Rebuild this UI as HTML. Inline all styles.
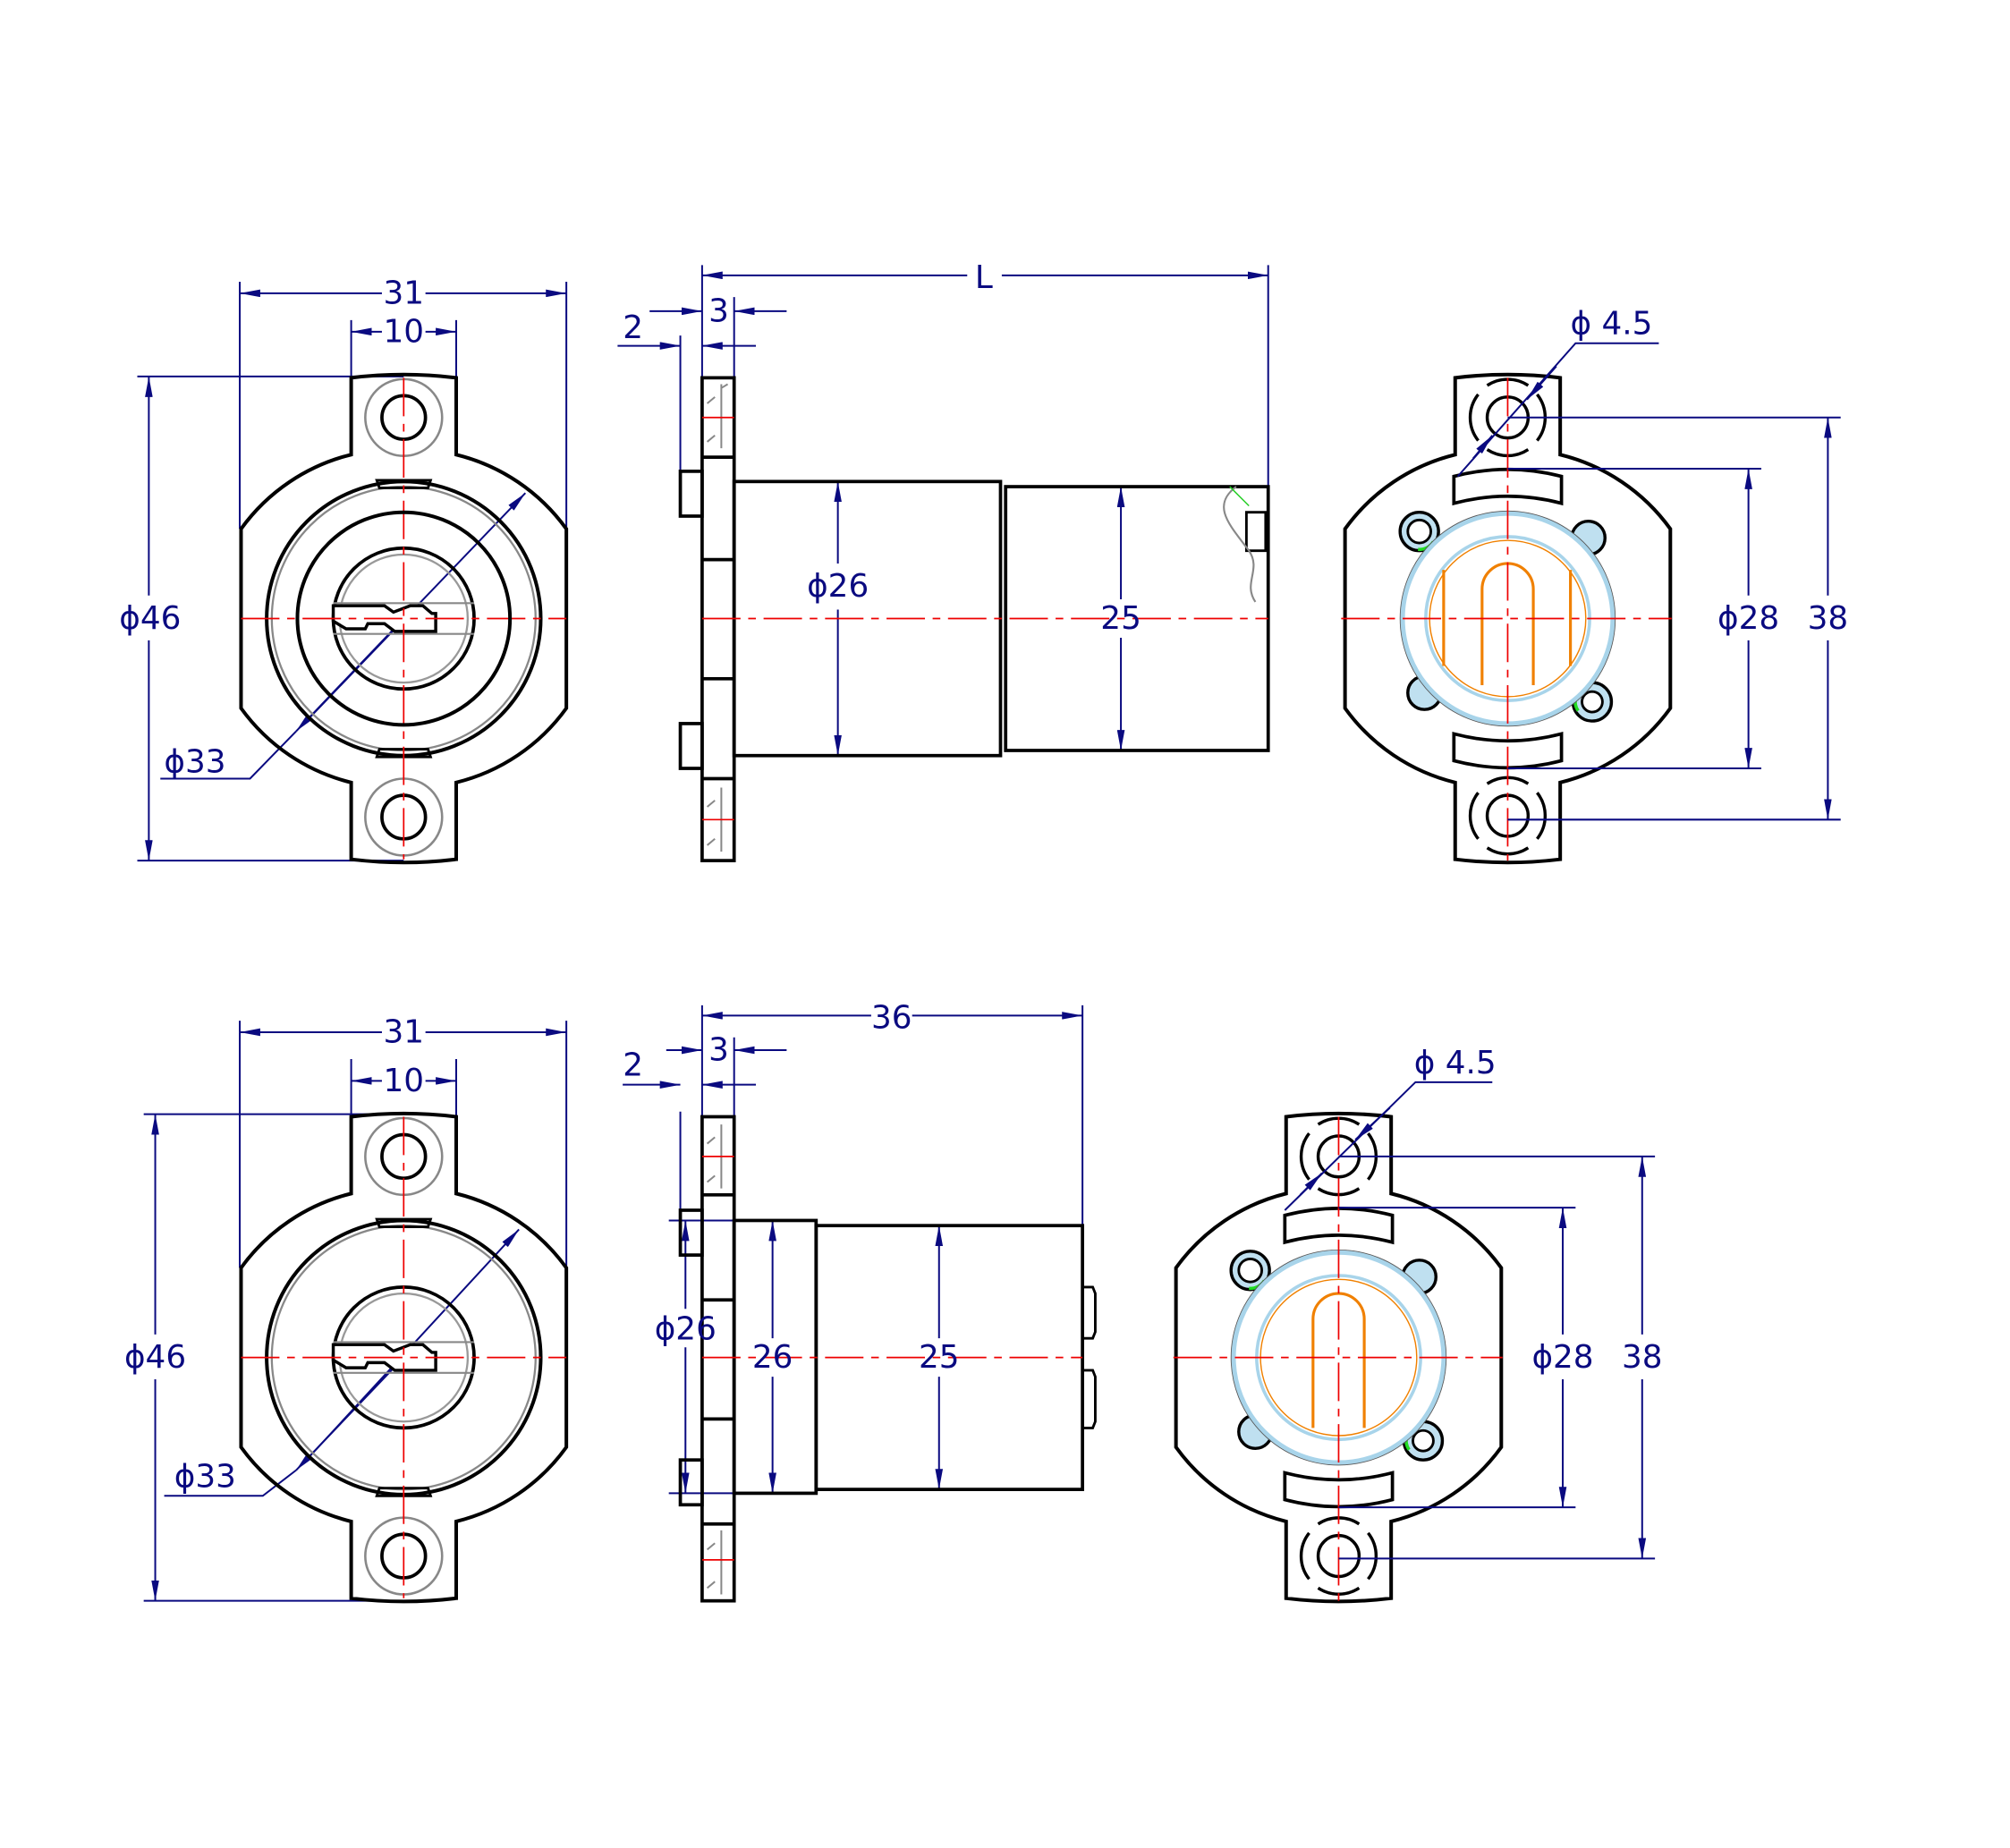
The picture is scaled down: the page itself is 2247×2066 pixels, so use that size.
<!DOCTYPE html>
<html><head><meta charset="utf-8"><style>html,body{margin:0;padding:0;background:#fff}svg{display:block}text{font-family:"DejaVu Sans","Liberation Sans",sans-serif;fill:#0a0a80;font-size:25px;text-anchor:middle;dominant-baseline:central}</style></head>
<body>
<svg width="2247" height="2066" viewBox="0 0 1569 1443" xmlns="http://www.w3.org/2000/svg">
<defs>
<marker id="a" viewBox="0 0 16 6" refX="16" refY="3" markerWidth="16" markerHeight="6" markerUnits="userSpaceOnUse" orient="auto-start-reverse"><path d="M0,0 L16,3 L0,6 Z" fill="#0a0a80"/></marker>
<path id="body" d="M-41,-188 Q0,-193 41,-188 L41,-128 A150 150 0 0 1 127,-70 L127,70 A150 150 0 0 1 41,128 L41,188 Q0,193 -41,188 L-41,128 A150 150 0 0 1 -127,70 L-127,-70 A150 150 0 0 1 -41,-128 Z" fill="none" stroke="#000" stroke-width="2.8"/>
<g id="front">
 <use href="#body"/>
 <circle r="30" cy="-157" fill="none" stroke="#888" stroke-width="1.8"/>
 <circle r="17" cy="-157" fill="none" stroke="#000" stroke-width="2.6"/>
 <circle r="30" cy="155" fill="none" stroke="#888" stroke-width="1.8"/>
 <circle r="17" cy="155" fill="none" stroke="#000" stroke-width="2.6"/>
 <circle r="107" fill="none" stroke="#000" stroke-width="2.8"/>
 <circle r="103" fill="none" stroke="#888" stroke-width="1.6"/>
 <circle r="55" fill="none" stroke="#000" stroke-width="2.6"/>
 <circle r="50" fill="none" stroke="#999" stroke-width="1.6"/>
 <path d="M-19,-102 L19,-102 L21,-108 L-21,-108 Z M-19,102 L19,102 L21,108 L-21,108 Z" fill="none" stroke="#000" stroke-width="2"/>
 <path d="M-55,-12 H55 M-55,12 H55" stroke="#888" stroke-width="1.5"/>
 <path d="M-55,-10 L-15,-10 L-8,-5 L5,-10 L15,-10 L22,-4 L25,-4 L25,10 L-7,10 L-15,4 L-28,4 L-30,8 L-45,8 L-55,2 Z" fill="#fff" stroke="#000" stroke-width="2.4"/>
 <path d="M0,-188 V188 M-127,0 H127" stroke="#e00" stroke-width="1.2" stroke-dasharray="30,6,6,6"/>
</g>
<g id="rear">
 <use href="#body"/>
 <path d="M-42,-111 Q0,-122 42,-111 L42,-90 Q0,-101 -42,-90 Z M-42,111 Q0,122 42,111 L42,90 Q0,101 -42,90 Z" fill="none" stroke="#000" stroke-width="2.6"/>
</g>
<g id="hole">
 <circle r="16" fill="none" stroke="#000" stroke-width="2.4"/>
 <path d="M-23,-18 A29 29 0 0 0 -23,18 M23,-18 A29 29 0 0 1 23,18 M-16,-25 A29 29 0 0 1 16,-25 M-16,25 A29 29 0 0 0 16,25" fill="none" stroke="#000" stroke-width="2.4"/>
</g>
<g id="ring">
 <circle cx="-69" cy="-68" r="15" fill="#bfe0f0" stroke="#000" stroke-width="2.4"/>
 <circle cx="63" cy="-63" r="13" fill="#bfe0f0" stroke="#000" stroke-width="2.4"/>
 <circle cx="66" cy="65" r="15" fill="#bfe0f0" stroke="#000" stroke-width="2.4"/>
 <circle cx="-65" cy="58" r="13" fill="#bfe0f0" stroke="#000" stroke-width="2.4"/>
 <circle cx="-69" cy="-68" r="9" fill="#fff" stroke="#000" stroke-width="2"/>
 <circle cx="66" cy="65" r="8" fill="#fff" stroke="#000" stroke-width="2"/>
 <path d="M-58,-60 A13 13 0 0 1 -70,-54" fill="none" stroke="#2d2" stroke-width="2.5"/>
 <path d="M55,72 A13 13 0 0 1 60,53" fill="none" stroke="#2d2" stroke-width="2.5"/>
 <circle r="82" fill="#fff" stroke="#a8d4ea" stroke-width="3.5"/>
 <circle r="84" fill="none" stroke="#555" stroke-width="0.6"/>
 <circle r="64" fill="none" stroke="#a8d4ea" stroke-width="2.5"/>
 <circle r="61" fill="none" stroke="#f08000" stroke-width="1"/>
</g>
</defs>
<g fill="none" stroke="#0a0a80" stroke-width="1.4">
<path d="M187,220 V413 M442,220 V413 M274,250 V295 M356,250 V295 M107,294 H315 M107,672 H315"/>
<line x1="298" y1="229" x2="187" y2="229" marker-end="url(#a)"/><line x1="332" y1="229" x2="442" y2="229" marker-end="url(#a)"/>
<line x1="298" y1="259" x2="274" y2="259" marker-end="url(#a)"/><line x1="332" y1="259" x2="356" y2="259" marker-end="url(#a)"/>
<line x1="116" y1="465" x2="116" y2="294" marker-end="url(#a)"/><line x1="116" y1="500" x2="116" y2="672" marker-end="url(#a)"/>
<line x1="240" y1="562" x2="410" y2="385" marker-end="url(#a)"/><line x1="315" y1="483" x2="231" y2="571" marker-end="url(#a)"/>
<path d="M231,571 L195,608 H125"/>
<path d="M187,797 V990 M442,797 V990 M274,827 V872 M356,827 V872 M112,870 H315 M112,1250 H315"/>
<line x1="298" y1="806" x2="187" y2="806" marker-end="url(#a)"/><line x1="332" y1="806" x2="442" y2="806" marker-end="url(#a)"/>
<line x1="298" y1="844" x2="274" y2="844" marker-end="url(#a)"/><line x1="332" y1="844" x2="356" y2="844" marker-end="url(#a)"/>
<line x1="121" y1="1042" x2="121" y2="870" marker-end="url(#a)"/><line x1="121" y1="1077" x2="121" y2="1250" marker-end="url(#a)"/>
<line x1="240" y1="1139" x2="405" y2="960" marker-end="url(#a)"/><line x1="315" y1="1060" x2="231" y2="1148" marker-end="url(#a)"/>
<path d="M231,1148 L205,1168 H128"/>
<path d="M548,207 V295 M990,207 V380 M531,262 V368 M573,232 V376"/>
<line x1="755" y1="215" x2="548" y2="215" marker-end="url(#a)"/><line x1="782" y1="215" x2="990" y2="215" marker-end="url(#a)"/>
<line x1="507" y1="243" x2="548" y2="243" marker-end="url(#a)"/><line x1="614" y1="243" x2="573" y2="243" marker-end="url(#a)"/>
<line x1="482" y1="270" x2="531" y2="270" marker-end="url(#a)"/><line x1="590" y1="270" x2="548" y2="270" marker-end="url(#a)"/>
<line x1="654" y1="440" x2="654" y2="376" marker-end="url(#a)"/><line x1="654" y1="476" x2="654" y2="590" marker-end="url(#a)"/>
<line x1="875" y1="468" x2="875" y2="380" marker-end="url(#a)"/><line x1="875" y1="498" x2="875" y2="586" marker-end="url(#a)"/>
<path d="M548,785 V872 M845,785 V957 M531,868 V945 M573,810 V953 M522,953 H573 M522,1166 H573"/>
<line x1="680" y1="793" x2="548" y2="793" marker-end="url(#a)"/><line x1="712" y1="793" x2="845" y2="793" marker-end="url(#a)"/>
<line x1="520" y1="820" x2="548" y2="820" marker-end="url(#a)"/><line x1="614" y1="820" x2="573" y2="820" marker-end="url(#a)"/>
<line x1="486" y1="847" x2="531" y2="847" marker-end="url(#a)"/><line x1="590" y1="847" x2="548" y2="847" marker-end="url(#a)"/>
<line x1="535" y1="1022" x2="535" y2="953" marker-end="url(#a)"/><line x1="535" y1="1052" x2="535" y2="1166" marker-end="url(#a)"/>
<line x1="603" y1="1045" x2="603" y2="953" marker-end="url(#a)"/><line x1="603" y1="1075" x2="603" y2="1166" marker-end="url(#a)"/>
<line x1="733" y1="1045" x2="733" y2="957" marker-end="url(#a)"/><line x1="733" y1="1075" x2="733" y2="1163" marker-end="url(#a)"/>
</g>

<use href="#front" x="315" y="483"/>
<use href="#front" x="315" y="1060"/>
<circle cx="315" cy="483" r="83" fill="none" stroke="#000" stroke-width="2.8"/>

<g fill="none" stroke="#000" stroke-width="2.6">
 <rect x="548" y="295" width="25" height="377"/>
 <path d="M548,357 H573 M548,437 H573 M548,530 H573 M548,608 H573"/>
 <rect x="531" y="368" width="17" height="35"/><rect x="531" y="565" width="17" height="35"/>
 <rect x="573" y="376" width="208" height="214"/>
 <rect x="785" y="380" width="205" height="206"/>
 <path d="M973,400 H988 V430 H973 Z" stroke-width="2"/>
 <path d="M965,380 C945,395 960,410 975,430 C985,445 970,455 980,470" stroke="#888" stroke-width="1.5"/>
 <path d="M960,380 L975,395" stroke="#2c2" stroke-width="1"/>
 <rect x="548" y="872" width="25" height="378"/>
 <path d="M548,933 H573 M548,1015 H573 M548,1108 H573 M548,1190 H573"/>
 <rect x="531" y="945" width="17" height="35"/><rect x="531" y="1140" width="17" height="35"/>
 <rect x="573" y="953" width="64" height="213"/>
 <rect x="637" y="957" width="208" height="206"/>
 <path d="M845,1005 H853 L855,1010 V1040 L853,1045 H845 M845,1070 H853 L855,1075 V1110 L853,1115 H845" stroke-width="2"/>
</g>
<g stroke="#888" stroke-width="1.4" fill="none">
 <path d="M563,300 V350 M563,303 L568,300 M552,315 L558,310 M552,345 L558,340 M563,615 V665 M552,630 L558,625 M552,660 L558,655 M563,878 V928 M552,893 L558,888 M552,923 L558,918 M563,1195 V1245 M552,1210 L558,1205 M552,1240 L558,1235"/>
</g>
<g stroke="#e00" stroke-width="1.2" fill="none" stroke-dasharray="30,6,6,6">
 <path d="M548,483 H990 M548,1060 H845 M548,326 H573 M548,640 H573 M548,903 H573 M548,1218 H573"/>
</g>

<use href="#rear" x="1177" y="483"/>
<use href="#hole" x="1177" y="326"/><use href="#hole" x="1177" y="637"/>
<use href="#ring" x="1177" y="483"/>
<g fill="none" stroke="#f08000" stroke-width="2.2">
 <path d="M1157,535 V460 A20 20 0 0 1 1197,460 V535 M1127,445 V520 M1226,445 V520"/>
</g>
<path d="M1177,295 V672 M1047,483 H1305" stroke="#e00" stroke-width="1.2" stroke-dasharray="30,6,6,6"/>

<use href="#rear" x="1045" y="1060"/>
<use href="#hole" x="1045" y="903"/><use href="#hole" x="1045" y="1215"/>
<use href="#ring" x="1045" y="1060"/>
<path d="M1025,1115 V1030 A20 20 0 0 1 1065,1030 V1115" fill="none" stroke="#f08000" stroke-width="2.2"/>
<path d="M1045,872 V1250 M916,1060 H1173" stroke="#e00" stroke-width="1.2" stroke-dasharray="30,6,6,6"/>

<g fill="none" stroke="#0a0a80" stroke-width="1.4">
 <path d="M1295,268 H1230 L1138,372"/>
 <line x1="1215" y1="286" x2="1192" y2="312" marker-end="url(#a)"/>
 <line x1="1150" y1="358" x2="1165" y2="340" marker-end="url(#a)"/>
 <path d="M1177,366 H1375 M1177,600 H1375 M1177,326 H1437 M1177,640 H1437"/>
 <line x1="1365" y1="465" x2="1365" y2="366" marker-end="url(#a)"/><line x1="1365" y1="500" x2="1365" y2="600" marker-end="url(#a)"/>
 <line x1="1427" y1="465" x2="1427" y2="326" marker-end="url(#a)"/><line x1="1427" y1="500" x2="1427" y2="640" marker-end="url(#a)"/>
 <path d="M1165,845 H1105 L1003,945"/>
 <line x1="1085" y1="865" x2="1058" y2="890" marker-end="url(#a)"/>
 <line x1="1015" y1="933" x2="1032" y2="916" marker-end="url(#a)"/>
 <path d="M1045,943 H1230 M1045,1177 H1230 M1045,903 H1292 M1045,1217 H1292"/>
 <line x1="1220" y1="1042" x2="1220" y2="943" marker-end="url(#a)"/><line x1="1220" y1="1077" x2="1220" y2="1177" marker-end="url(#a)"/>
 <line x1="1282" y1="1042" x2="1282" y2="903" marker-end="url(#a)"/><line x1="1282" y1="1077" x2="1282" y2="1217" marker-end="url(#a)"/>
</g>

<text x="315" y="229">31</text><text x="315" y="259">10</text>
<text x="117" y="483">ϕ46</text><text x="152" y="595">ϕ33</text>
<text x="315" y="806">31</text><text x="315" y="844">10</text>
<text x="121" y="1060">ϕ46</text><text x="160" y="1153">ϕ33</text>
<text x="768" y="217">L</text><text x="561" y="243">3</text><text x="494" y="256">2</text>
<text x="654" y="458">ϕ26</text><text x="875" y="483">25</text>
<text x="696" y="795">36</text><text x="561" y="820">3</text><text x="494" y="832">2</text>
<text x="535" y="1038">ϕ26</text><text x="603" y="1060">26</text><text x="733" y="1060">25</text>
<text x="1258" y="253">ϕ  4.5</text><text x="1365" y="483">ϕ28</text><text x="1427" y="483">38</text>
<text x="1136" y="830">ϕ  4.5</text><text x="1220" y="1060">ϕ28</text><text x="1282" y="1060">38</text>
</svg>
</body></html>
